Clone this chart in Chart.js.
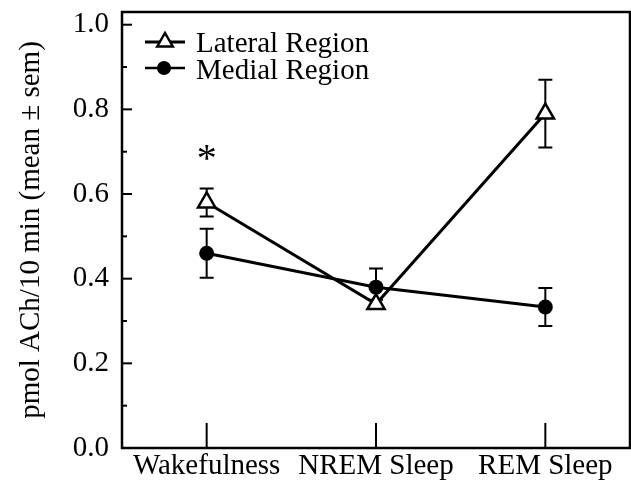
<!DOCTYPE html>
<html>
<head>
<meta charset="utf-8">
<script src="https://cdn.jsdelivr.net/npm/chart.js@4/dist/chart.umd.min.js"></script>
<style>
	html, body { margin: 0; padding: 0; background: #fff; }
	#wrap { width: 631px; height: 497px; }
</style>
</head>
<body>
<div id="wrap"><canvas id="ach-chart" width="631" height="497"></canvas></div>
<script>
// values
const categories = ['Wakefulness', 'NREM Sleep', 'REM Sleep'];
const lateralMean = [0.58, 0.34, 0.79];
const lateralSem = [0.033, 0.01, 0.08];
const medialMean = [0.46, 0.38, 0.333];
const medialSem = [0.058, 0.044, 0.045];
const yTickValues = [0, 0.2, 0.4, 0.6, 0.8, 1.0];
const yMinorValues = [0.1, 0.3, 0.5, 0.7, 0.9];
const starCategory = 0;
const starValue = 0.70;

const serif = "'Liberation Serif', 'Times New Roman', serif";

const decor = {
	id: 'decor',
	beforeDatasetsDraw(chart) {
		const ctx = chart.ctx;
		const x = chart.scales.x, y = chart.scales.y;
		const a = chart.chartArea;
		ctx.save();
		ctx.strokeStyle = '#000';
		// frame
		ctx.lineWidth = 2.5;
		ctx.strokeRect(a.left, a.top, a.right - a.left, a.bottom - a.top);
		// y ticks (inside)
		ctx.lineWidth = 2;
		yTickValues.forEach(function(v) {
			const py = y.getPixelForValue(v);
			ctx.beginPath(); ctx.moveTo(a.left, py); ctx.lineTo(a.left + 10, py); ctx.stroke();
		});
		yMinorValues.forEach(function(v) {
			const py = y.getPixelForValue(v);
			ctx.beginPath(); ctx.moveTo(a.left, py); ctx.lineTo(a.left + 5, py); ctx.stroke();
		});
		// x ticks (inside, long)
		categories.forEach(function(c, i) {
			const px = x.getPixelForValue(i);
			ctx.beginPath(); ctx.moveTo(px, a.bottom); ctx.lineTo(px, a.bottom - 25); ctx.stroke();
		});
		// error bars
		const bars = function(means, sems) {
			means.forEach(function(m, i) {
				const px = x.getPixelForValue(i);
				const hi = y.getPixelForValue(m + sems[i]);
				const lo = y.getPixelForValue(m - sems[i]);
				ctx.beginPath();
				ctx.moveTo(px, hi); ctx.lineTo(px, lo);
				ctx.moveTo(px - 7, hi); ctx.lineTo(px + 7, hi);
				ctx.moveTo(px - 7, lo); ctx.lineTo(px + 7, lo);
				ctx.stroke();
			});
		};
		bars(lateralMean, lateralSem);
		bars(medialMean, medialSem);
		ctx.restore();
	},
	afterDraw(chart) {
		const ctx = chart.ctx;
		const x = chart.scales.x, y = chart.scales.y;
		const a = chart.chartArea;
		ctx.save();
		// significance mark
		ctx.fillStyle = '#000';
		ctx.font = '40px ' + serif;
		ctx.textAlign = 'center';
		ctx.textBaseline = 'alphabetic';
		ctx.fillText('*', x.getPixelForValue(starCategory), y.getPixelForValue(starValue) + 19);
		// legend
		const lx = a.left + 23, rows = [a.top + 30, a.top + 56];
		ctx.strokeStyle = '#000';
		ctx.lineWidth = 3;
		ctx.beginPath(); ctx.moveTo(lx, rows[0]); ctx.lineTo(lx + 40, rows[0]); ctx.stroke();
		ctx.lineWidth = 2.5;
		ctx.beginPath(); ctx.moveTo(lx, rows[1]); ctx.lineTo(lx + 40, rows[1]); ctx.stroke();
		const cx = lx + 20, r = 9;
		ctx.lineWidth = 2.5;
		ctx.fillStyle = '#fff';
		ctx.beginPath();
		ctx.moveTo(cx, rows[0] - r);
		ctx.lineTo(cx + r * 0.866, rows[0] + r / 2);
		ctx.lineTo(cx - r * 0.866, rows[0] + r / 2);
		ctx.closePath(); ctx.fill(); ctx.stroke();
		ctx.fillStyle = '#000';
		ctx.beginPath(); ctx.arc(cx - 1, rows[1], 7, 0, Math.PI * 2); ctx.fill();
		ctx.font = '29px ' + serif;
		ctx.textAlign = 'left';
		ctx.fillText('Lateral Region', lx + 51, rows[0] + 10);
		ctx.fillText('Medial Region', lx + 51, rows[1] + 11);
		ctx.restore();
	}
};

new Chart(document.getElementById('ach-chart').getContext('2d'), {
	type: 'line',
	data: {
		labels: categories,
		datasets: [{
			label: 'Lateral Region',
			data: lateralMean,
			borderColor: '#000',
			borderWidth: 3,
			pointStyle: 'triangle',
			pointRadius: 10,
			pointBorderWidth: 2.5,
			pointBackgroundColor: '#fff',
			pointBorderColor: '#000',
			order: 1,
			clip: false
		}, {
			label: 'Medial Region',
			data: medialMean,
			borderColor: '#000',
			borderWidth: 3,
			pointStyle: 'circle',
			pointRadius: 7.5,
			pointBorderWidth: 0,
			pointBackgroundColor: '#000',
			order: 0,
			clip: false
		}]
	},
	options: {
		responsive: false,
		animation: false,
		layout: { autoPadding: false, padding: { top: 12, right: 1, left: 0, bottom: 0 } },
		plugins: {
			legend: { display: false },
			tooltip: { enabled: false }
		},
		scales: {
			x: {
				type: 'category',
				offset: true,
				grid: { display: false, drawTicks: false },
				border: { display: false },
				ticks: {
					color: '#000',
					padding: 1,
					maxRotation: 0,
					font: { family: serif, size: 29 }
				},
				afterFit: function(s) { s.height = 49; s.paddingLeft = 0; s.paddingRight = 0; }
			},
			y: {
				min: 0,
				max: 1.03,
				grid: { display: false, drawTicks: false },
				border: { display: false },
				afterBuildTicks: function(s) { s.ticks = yTickValues.map(function(v) { return { value: v }; }); },
				ticks: {
					color: '#000',
					padding: 13,
					font: { family: serif, size: 29 },
					callback: function(v) { return Number(v).toFixed(1); }
				},
				title: {
					display: true,
					text: 'pmol ACh/10 min (mean \u00b1 sem)',
					color: '#000',
					padding: { top: 14, bottom: 0 },
					font: { family: serif, size: 29 }
				},
				afterFit: function(s) { s.width = 122; s.paddingTop = 0; s.paddingBottom = 0; }
			}
		}
	},
	plugins: [decor]
});
</script>
</body>
</html>
